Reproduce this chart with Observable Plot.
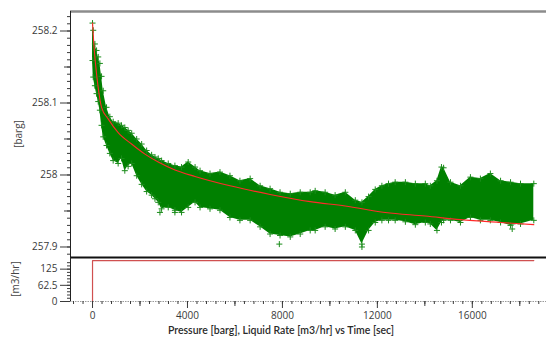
<!DOCTYPE html>
<html><head><meta charset="utf-8">
<script src="https://cdn.jsdelivr.net/npm/d3@7"></script>
<script src="https://cdn.jsdelivr.net/npm/@observablehq/plot@0.6"></script>
<style>
body{margin:0;background:#fff;}
#wrap{position:relative;width:546px;height:339px;overflow:hidden;font-family:"Open Sans",sans-serif;background:#fff;}
#top{position:absolute;left:0;top:0;}
#bot{position:absolute;left:0;top:256px;}
#title{position:absolute;top:324px;left:0;width:562px;text-align:center;font-family:Lato,sans-serif;font-size:10.5px;color:#2a2a2a;font-weight:600;white-space:nowrap;}
.ylab{position:absolute;font-size:10px;color:#444;white-space:nowrap;transform:translate(-50%,-50%) rotate(-90deg);}
</style></head><body>
<div id="wrap">
  <div id="top"></div>
  <div id="bot"></div>
  <div class="ylab" style="left:18px;top:134px">[barg]</div>
  <div class="ylab" style="left:15px;top:279px">[m3/hr]</div>
  <div id="title">Pressure [barg], Liquid Rate [m3/hr] vs Time [sec]</div>
</div>
<script>
// ---- data ----
const bandTime = [0,30,100,170,240,310,380,450,590,730,870,1080,1220,1360,1500,1650,1860,2070,2280,2490,2630,2770,2910,3190,3470,3750,4030,4320,4530,4950,5370,5790,6210,6640,7060,7480,7900,8330,8750,9170,9380,9800,10220,10650,11070,11350,11630,11910,12190,12470,12750,13180,13600,14020,14230,14510,14700,14790,15080,15500,15920,16340,16760,17190,17610,18030,18590];
const bandHigh = [258.211,258.201,258.182,258.173,258.164,258.155,258.137,258.117,258.094,258.081,258.074,258.072,258.069,258.066,258.062,258.058,258.050,258.043,258.034,258.028,258.025,258.023,258.020,258.016,258.013,258.011,258.018,258.011,258.006,258.002,258.004,257.999,257.992,257.995,257.985,257.981,257.976,257.974,257.976,257.976,257.978,257.976,257.972,257.976,257.965,257.962,257.970,257.980,257.985,257.988,257.990,257.990,257.988,257.988,257.985,257.992,258.011,258.010,257.990,257.985,257.997,257.995,258.002,257.992,257.990,257.988,257.988];
const bandLow = [258.159,258.136,258.124,258.113,258.102,258.090,258.069,258.053,258.041,258.030,258.020,258.016,258.023,258.006,258.012,258.016,257.999,257.987,257.977,257.972,257.967,257.962,257.953,257.955,257.951,257.948,257.955,257.962,257.955,257.953,257.951,257.941,257.937,257.937,257.928,257.918,257.916,257.914,257.918,257.923,257.923,257.928,257.925,257.928,257.923,257.904,257.923,257.934,257.937,257.937,257.937,257.935,257.931,257.934,257.932,257.923,257.934,257.937,257.937,257.934,257.941,257.937,257.937,257.934,257.930,257.932,257.937];
const outlierTime = [2840, 3470, 7870, 11350, 17680];
const outlierValue = [257.948, 257.948, 257.904, 257.900, 257.925];

const fitTime = [0,55,139,236,380,658,1080,1645,2207,2768,3472,4316,5793,7481,9168,10645,12333,14020,15497,17185,18590];
const fitValue = [258.211,258.182,258.150,258.122,258.094,258.078,258.059,258.043,258.029,258.018,258.007,257.998,257.985,257.973,257.963,257.957,257.948,257.943,257.938,257.934,257.931];

const rateTime = [0, 0, 18590];
const rateValue = [0, 158, 158];

const pressureTicks = [257.9, 258, 258.1, 258.2];
const pressureTickLabels = ["257.9", "258", "258.1", "258.2"];
const rateTicks = [0, 62.5, 125];
const rateTickLabels = ["0", "62.5", "125"];
const timeTicks = [0, 4000, 8000, 12000, 16000];
const timeTickLabels = ["0", "4000", "8000", "12000", "16000"];

// ---- build tables ----
const band = bandTime.map((t, i) => ({t, hi: bandHigh[i], lo: bandLow[i]}));
const edgePts = [
  ...bandTime.map((t, i) => ({t, v: bandHigh[i]})),
  ...bandTime.map((t, i) => ({t, v: bandLow[i]})),
  ...outlierTime.map((t, i) => ({t, v: outlierValue[i]}))
];
const fit = fitTime.map((t, i) => ({t, v: fitValue[i]}));
const rate = rateTime.map((t, i) => ({t, q: rateValue[i]}));

const xDomain = [-928, 19125];
const yDomainP = [257.8854, 258.2271];
const yDomainQ = [0, 170];
const style = {fontFamily: '"Open Sans", sans-serif', fontSize: "10px", color: "#3a3a3a", background: "transparent", overflow: "visible"};
const lbl = (ticks, labels) => d => labels[ticks.indexOf(d)] ?? String(d);

const pMinor = d3.range(25789, 25823).map(d => d / 100);
const pMid = [257.95, 258.05, 258.15];
const qMinor = d3.range(0, 13).map(i => i * 12.5);
const tMinor = d3.range(-2, 48).map(i => i * 400);
const tMid = d3.range(0, 5).map(i => 2000 + i * 4000);

const topChart = Plot.plot({
  width: 546, height: 257,
  marginLeft: 70, marginRight: 0, marginTop: 11, marginBottom: 0,
  x: {domain: xDomain, axis: null},
  y: {domain: yDomainP, label: null},
  style,
  marks: [
    Plot.areaY(band, {x: "t", y1: "lo", y2: "hi", fill: "#008000"}),
    Plot.dot(edgePts, {x: "t", y: "v", symbol: "plus", r: 2.1, stroke: "#1a8c1a", strokeWidth: 1}),
    Plot.line(fit, {x: "t", y: "v", stroke: "#ff2a2a", strokeWidth: 1.1, curve: "monotone-x"}),
    Plot.ruleY([yDomainP[1]], {stroke: "#8c8c8c", strokeWidth: 2.5}),
    Plot.ruleX([xDomain[0]], {stroke: "#222"}),
    Plot.axisY({ticks: pressureTicks, tickSize: 10, tickPadding: 3, tickFormat: lbl(pressureTicks, pressureTickLabels), label: null}),
    Plot.axisY({ticks: pMid, tickSize: 6, tickFormat: () => "", label: null}),
    Plot.axisY({ticks: pMinor, tickSize: 3, tickFormat: () => "", label: null})
  ]
});
document.getElementById("top").append(topChart);

const botChart = Plot.plot({
  width: 546, height: 83,
  marginLeft: 70, marginRight: 0, marginTop: 1, marginBottom: 38,
  x: {domain: xDomain, label: null},
  y: {domain: yDomainQ, label: null},
  style,
  marks: [
    Plot.ruleY([0], {stroke: "#9a9a9a", strokeDasharray: "1.5,1"}),
    Plot.line(rate, {x: "t", y: "q", stroke: "#d05050", strokeWidth: 1.2}),
    Plot.ruleY([yDomainQ[1]], {stroke: "#111", strokeWidth: 2}),
    Plot.ruleX([xDomain[0]], {stroke: "#222"}),
    Plot.axisY({ticks: rateTicks, tickSize: 10, tickPadding: 3, tickFormat: lbl(rateTicks, rateTickLabels), label: null}),
    Plot.axisY({ticks: qMinor, tickSize: 3, tickFormat: () => "", label: null}),
    Plot.axisX({ticks: timeTicks, tickSize: 7, tickPadding: 3, tickFormat: lbl(timeTicks, timeTickLabels), label: null}),
    Plot.axisX({ticks: tMid, tickSize: 5, tickFormat: () => "", label: null}),
    Plot.axisX({ticks: tMinor, tickSize: 3, tickFormat: () => "", label: null})
  ]
});
document.getElementById("bot").append(botChart);
</script>
</body></html>
